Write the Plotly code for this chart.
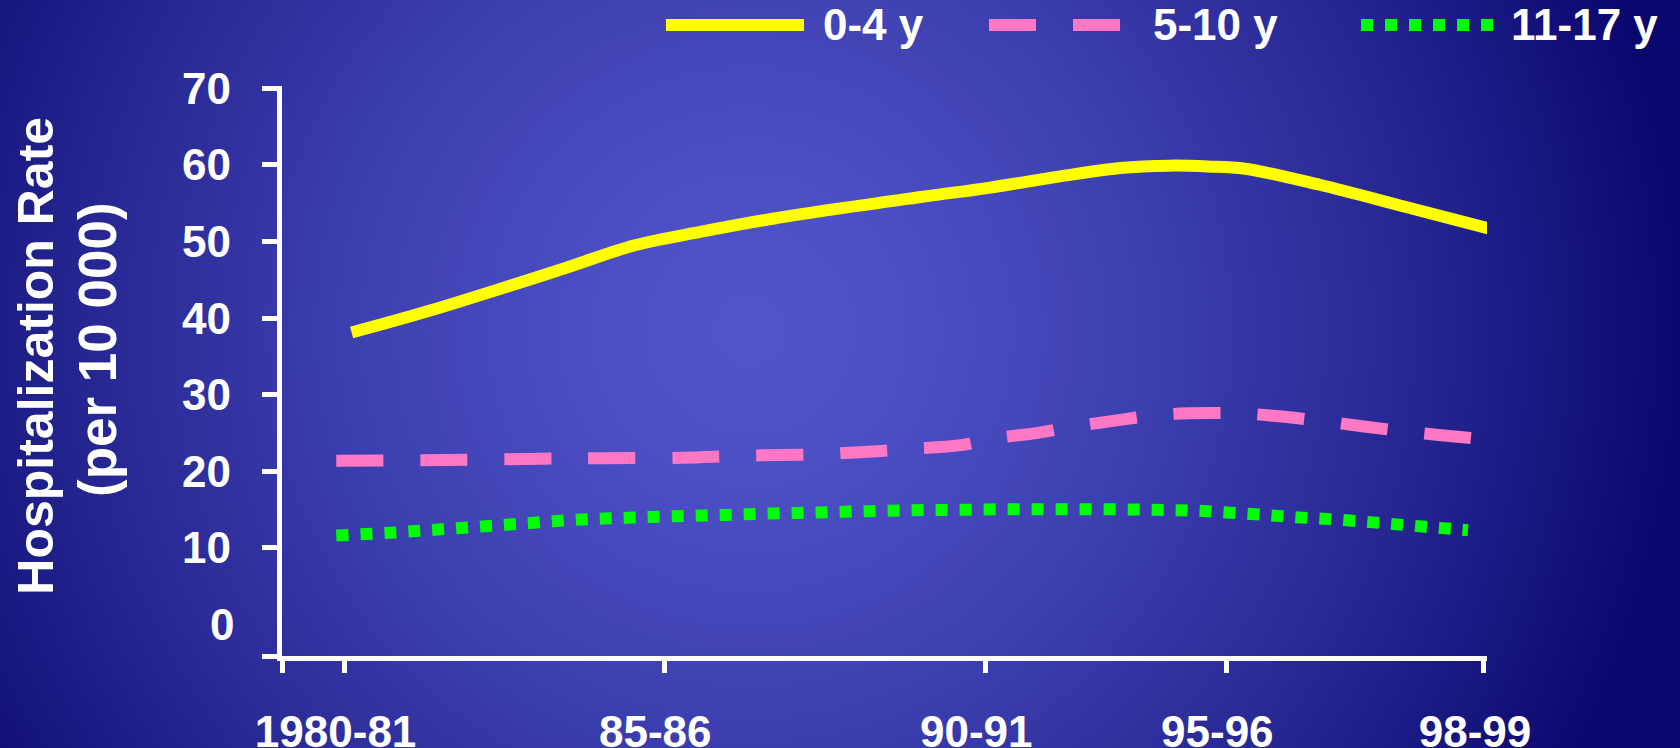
import base64
import plotly.graph_objects as go

# ---------------- data ----------------
season_labels = ["1980-81", "85-86", "90-91", "95-96", "98-99"]
season_pos = [0, 5, 10.02, 13.79, 17.82]

y_tick_vals = [10, 20, 30, 40, 50, 60, 70]
y_label_vals = [0, 10, 20, 30, 40, 50, 60, 70]
y_label_text = ["0", "10", "20", "30", "40", "50", "60", "70"]

age_0_4_x = [0.11, 1.31, 3.37, 4.54, 5.6, 6.72, 9.01, 10.07, 11.19, 12.13, 12.91, 13.5, 14.08, 15.25, 16.6, 17.94]
age_0_4_y = [38.1, 40.9, 46.3, 49.5, 51.3, 53.0, 55.8, 57.0, 58.5, 59.6, 59.9, 59.8, 59.5, 57.4, 54.5, 51.6]

age_5_10_x = [-0.13, 1.55, 2.86, 4.03, 5.3, 6.15, 7.38, 8.33, 8.82, 9.64, 10.1, 10.84, 11.39, 12.13,
              12.71, 13.2, 14.0, 14.57, 15.33, 15.88, 16.63, 17.15, 17.74]
age_5_10_y = [21.37, 21.46, 21.6, 21.7, 21.75, 22.0, 22.2, 22.6, 22.9, 23.4, 24.2, 25.0, 25.8, 26.7,
              27.33, 27.55, 27.55, 27.2, 26.5, 25.9, 25.15, 24.7, 24.24]

age_11_17_x = [-0.13, 0.71, 1.46, 2.21, 2.95, 3.7, 4.42, 5.16, 5.92, 6.67, 7.41, 8.16, 8.9, 9.65,
               10.4, 11.14, 11.9, 12.66, 13.36, 14.11, 14.86, 15.61, 16.36, 17.1, 17.57]
age_11_17_y = [11.6, 11.95, 12.38, 12.81, 13.25, 13.69, 13.9, 14.12, 14.27, 14.47, 14.6, 14.77, 14.9, 14.95,
               15.03, 15.03, 15.03, 14.95, 14.82, 14.44, 14.0, 13.62, 13.12, 12.6, 12.3]

series_names = ["0-4 y", "5-10 y", "11-17 y"]

# ---------------- style ----------------
W, H = 1680, 748
FONT = "Liberation Sans, Arial, sans-serif"
WHITE = "#ffffff"
YELLOW = "#ffff00"
PINK = "#ff78c6"
GREEN = "#00ff00"
LW = 12
DASH_PINK = "47px,37px"
DASH_GREEN = "12px,12px"

X_RANGE = [-0.974, 17.867]
Y_RANGE = [-4.167, 70.3]


def px(x):
    return x / W


def py(y):
    return 1 - y / H


# background radial gradient (svg data uri)
c0 = (80, 84, 201)
c1 = (10, 8, 110)
stops = ""
for i in range(13):
    o = i / 12
    f = o ** 1.5
    col = tuple(round(a + (b - a) * f) for a, b in zip(c0, c1))
    stops += f'<stop offset="{o:.3f}" stop-color="rgb({col[0]},{col[1]},{col[2]})"/>'
svg = (f'<svg xmlns="http://www.w3.org/2000/svg" width="{W}" height="{H}" viewBox="0 0 {W} {H}">'
       f'<defs><radialGradient id="g" gradientUnits="userSpaceOnUse" cx="750" cy="330" r="930">{stops}'
       f'</radialGradient></defs><rect width="{W}" height="{H}" fill="url(#g)"/></svg>')
bg_src = "data:image/svg+xml;base64," + base64.b64encode(svg.encode()).decode()

fig = go.Figure()
fig.add_trace(go.Scatter(x=age_0_4_x, y=age_0_4_y, mode="lines", name=series_names[0],
                         line=dict(color=YELLOW, width=LW, shape="spline", smoothing=1.0)))
fig.add_trace(go.Scatter(x=age_5_10_x, y=age_5_10_y, mode="lines", name=series_names[1],
                         line=dict(color=PINK, width=LW, shape="spline", smoothing=1.0, dash=DASH_PINK)))
fig.add_trace(go.Scatter(x=age_11_17_x, y=age_11_17_y, mode="lines", name=series_names[2],
                         line=dict(color=GREEN, width=LW, shape="spline", smoothing=1.0, dash=DASH_GREEN)))

tickfont = dict(family=FONT, size=44, color=WHITE, weight="bold")

fig.update_layout(
    width=W, height=H,
    margin=dict(l=0, r=0, t=0, b=0, autoexpand=False),
    paper_bgcolor="#0c0a70",
    plot_bgcolor="rgba(0,0,0,0)",
    showlegend=False,
    xaxis=dict(domain=[px(282.3), px(1487)], range=X_RANGE,
               tickmode="array", tickvals=[X_RANGE[0]] + season_pos, ticktext=[""] + season_labels,
               ticks="outside", ticklen=12, tickwidth=5, tickcolor=WHITE,
               showline=True, linewidth=5, linecolor=WHITE,
               showgrid=False, zeroline=False, tickfont=tickfont,
               ticklabelstandoff=21, ticklabelshift=-9, automargin=False),
    yaxis=dict(domain=[py(656.2), py(86)], range=Y_RANGE,
               tickmode="array", tickvals=[Y_RANGE[0]] + y_tick_vals,
               ticks="outside", ticklen=15, tickwidth=5, tickcolor=WHITE,
               showline=True, linewidth=5, linecolor=WHITE,
               showgrid=False, zeroline=False, showticklabels=False, automargin=False),
    images=[dict(source=bg_src, xref="paper", yref="paper", x=0, y=1, sizex=1, sizey=1,
                 xanchor="left", yanchor="top", sizing="stretch", layer="below")],
)

# y-axis value labels ("0" has no tick mark in the original and sits slightly further right)
for val, txt in zip(y_label_vals, y_label_text):
    fig.add_annotation(text=txt, xref="paper", yref="y", x=px(236 if val == 0 else 232.6), y=val,
                       xanchor="right", yanchor="middle", showarrow=False, font=tickfont)

# y-axis title (two lines)
fig.add_annotation(text="Hospitalization Rate", xref="paper", yref="paper", x=px(35.7), y=py(356),
                   xanchor="center", yanchor="middle", textangle=-90, showarrow=False,
                   font=dict(family=FONT, size=50, color=WHITE, weight="bold"))
fig.add_annotation(text="(per 10 000)", xref="paper", yref="paper", x=px(97), y=py(350),
                   xanchor="center", yanchor="middle", textangle=-90, showarrow=False,
                   font=dict(family=FONT, size=53, color=WHITE, weight="bold"))

# legend (drawn manually to match long sample lines)
legend_items = [
    (series_names[0], YELLOW, "solid", 666, 804, 821),
    (series_names[1], PINK, DASH_PINK, 989, 1121, 1151),
    (series_names[2], GREEN, DASH_GREEN, 1361, 1493, 1509),
]
for name, col, dash, x0, x1, tx in legend_items:
    fig.add_shape(type="line", xref="paper", yref="paper", x0=px(x0), x1=px(x1), y0=py(25), y1=py(25),
                  line=dict(color=col, width=LW, dash=dash))
    fig.add_annotation(text=name, xref="paper", yref="paper", x=px(tx), y=py(24), xanchor="left",
                       yanchor="middle", showarrow=False, font=dict(family=FONT, size=44, color=WHITE, weight="bold"))

fig.write_html("out.html", config={"displayModeBar": False},
               post_script="document.body.style.margin='0';document.body.style.overflow='hidden';")
